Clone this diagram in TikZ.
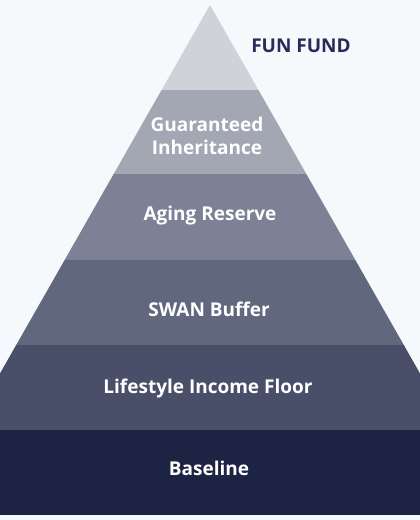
\documentclass[tikz,border=0pt]{standalone}
\usepackage{fontspec}
\setmainfont{Open Sans}
\definecolor{bgc}{HTML}{F6F9FC}
\definecolor{lA}{HTML}{D0D2D9}
\definecolor{lB}{HTML}{A3A6B3}
\definecolor{lC}{HTML}{7C8195}
\definecolor{lD}{HTML}{61677D}
\definecolor{lE}{HTML}{494F69}
\definecolor{lF}{HTML}{1C2343}
\definecolor{navy}{HTML}{272B57}
\begin{document}
\begin{tikzpicture}[x=1pt,y=-1pt,
  lbl/.style={text=white,font=\bfseries\fontsize{19}{23}\selectfont,align=center,inner sep=0pt}]
\useasboundingbox (0,0) rectangle (420,520);
\fill[bgc] (0,0) rectangle (420,520);
\begin{scope}
\clip (210,5) -- (-132,605) -- (552,605) -- cycle;
\clip (0,0) rectangle (420,520);
\fill[lA] (0,0) rectangle (420,90);
\fill[lB] (0,90) rectangle (420,174);
\fill[lC] (0,174) rectangle (420,260);
\fill[lD] (0,260) rectangle (420,345);
\fill[lE] (0,345) rectangle (420,430);
\end{scope}
\fill[lF] (0,430) rectangle (420,515);
\node[lbl] (gi) at (207,136) {Guaranteed\\Inheritance};
\node[lbl] (ar) at (210,216) {Aging Reserve};
\node[lbl] (sb) at (209,309) {SWAN Buffer};
\node[lbl] (lf) at (208,389) {Lifestyle Income Floor};
\node[lbl] (bl) at (209,468) {Baseline};
\node[lbl,text=navy] (ff) at (301,46) {FUN FUND};
\end{tikzpicture}
\end{document}
